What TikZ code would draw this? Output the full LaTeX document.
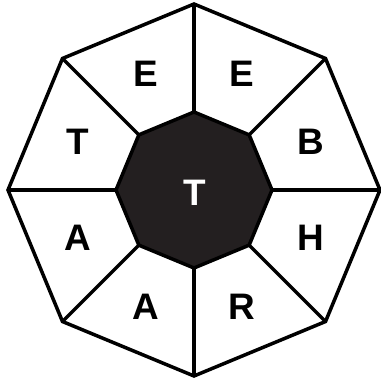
\documentclass[tikz,border=0pt]{standalone}
\usepackage{fontspec}
\setmainfont{Liberation Sans}
\usetikzlibrary{positioning}

\begin{document}
\begin{tikzpicture}[x=0.02cm, y=0.02cm, line width=2pt]
    % Palette
    \definecolor{hubFill}{HTML}{231F20}
    \tikzset{
        letter/.style={font=\fontsize{21}{21}\selectfont\bfseries, inner sep=0pt},
        hubletter/.style={letter, text=white}
    }
    \useasboundingbox (0,0) rectangle (380,383);

    \begin{scope}[shift={(194,193)}]
        % --- Outer ring ---
        \coordinate (o1) at (90:186);
        \coordinate (o2) at (45:186);
        \coordinate (o3) at (0:186);
        \coordinate (o4) at (-45:186);
        \coordinate (o5) at (-90:186);
        \coordinate (o6) at (-135:186);
        \coordinate (o7) at (180:186);
        \coordinate (o8) at (135:186);

        % --- Hub ---
        \coordinate (h1) at (90:78);
        \coordinate (h2) at (45:78);
        \coordinate (h3) at (0:78);
        \coordinate (h4) at (-45:78);
        \coordinate (h5) at (-90:78);
        \coordinate (h6) at (-135:78);
        \coordinate (h7) at (180:78);
        \coordinate (h8) at (135:78);

        \draw (o1) -- (o2) -- (o3) -- (o4) -- (o5) -- (o6) -- (o7) -- (o8) -- cycle;

        % Spokes
        \draw (h1) -- (o1);
        \draw (h2) -- (o2);
        \draw (h3) -- (o3);
        \draw (h4) -- (o4);
        \draw (h5) -- (o5);
        \draw (h6) -- (o6);
        \draw (h7) -- (o7);
        \draw (h8) -- (o8);

        \draw[fill=hubFill] (h1) -- (h2) -- (h3) -- (h4) -- (h5) -- (h6) -- (h7) -- (h8) -- cycle;

        % Letters
        \node[hubletter] (centre) at (1,-3) {T};
        \node[letter] (nne) at (67.5:126) {E};
        \node[letter] (nnw) at (112.5:126) {E};
        \node[letter] (wnw) at (157.5:126) {T};
        \node[letter] (wsw) at (202.5:126) {A};
        \node[letter] (ssw) at (247.5:126) {A};
        \node[letter] (sse) at (292.5:126) {R};
        \node[letter] (ese) at (337.5:126) {H};
        \node[letter] (ene) at (22.5:126) {B};
    \end{scope}
\end{tikzpicture}
\end{document}
